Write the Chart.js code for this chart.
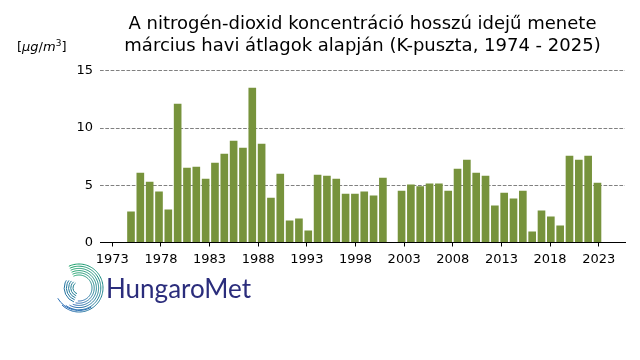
<!DOCTYPE html>
<html><head><meta charset="utf-8">
<script src="https://cdn.jsdelivr.net/npm/chart.js@4.4.1/dist/chart.umd.min.js"></script>
<style>
html,body{margin:0;padding:0;background:#fff;}
#wrap{position:relative;width:640px;height:360px;overflow:hidden;}
#ylab{position:absolute;left:17px;top:39px;font-family:"DejaVu Sans";font-size:13px;color:#000;white-space:nowrap;line-height:16px;}
#ylab sup{font-size:9px;vertical-align:0;position:relative;top:-5px;}
#logoText{position:absolute;left:106px;top:271px;font-family:Lato;font-weight:400;font-size:26px;color:#2b2d7c;line-height:34px;white-space:nowrap;}
</style></head>
<body><div id="wrap"><canvas id="c" width="640" height="360"></canvas>
<div id="ylab">[<i>μg</i>/<i>m</i><sup>3</sup>]</div>
<div id="logoText">HungaroMet</div></div>
<script>
const titleLines = ["A nitrogén-dioxid koncentráció hosszú idejű menete", "március havi átlagok alapján (K-puszta, 1974 - 2025)"];
const years = [1975,1976,1977,1978,1979,1980,1981,1982,1983,1984,1985,1986,1987,1988,1989,1990,1991,1992,1993,1994,1995,1996,1997,1998,1999,2000,2001,2002,2003,2004,2005,2006,2007,2008,2009,2010,2011,2012,2013,2014,2015,2016,2017,2018,2019,2020,2021,2022,2023,2024,2025];
const no2Values = [2.70,6.10,5.32,4.45,2.88,12.12,6.54,6.63,5.58,6.98,7.76,8.90,8.28,13.52,8.63,3.92,6.02,1.92,2.09,1.05,5.93,5.84,5.58,4.27,4.27,4.45,4.10,5.67,null,4.53,5.06,4.91,5.15,5.15,4.53,6.45,7.24,6.10,5.84,3.23,4.36,3.84,4.53,0.96,2.79,2.27,1.48,7.59,7.24,7.59,5.23];
const xTickLabels = [1973,1978,1983,1988,1993,1998,2003,2008,2013,2018,2023];
const yTickValues = [0,5,10,15];

const logoPlugin = {
  id: 'logo',
  afterDraw(chart) {
    const ctx = chart.ctx;
    const cx = 79, cy = 288;
    ctx.save();
    ctx.lineWidth = 1;
    const colAt = (t) => {
      const r = Math.round(20 + t * 20), g = Math.round(160 - t * 60), b = Math.round(100 + t * 80);
      return `rgb(${r},${g},${b})`;
    };
    for (let k = 0; k < 6; k++) {
      const r = 13 + k * 2.2;
      const a1 = -115 * Math.PI / 180, a2 = (95 + k * 8) * Math.PI / 180;
      const steps = 40;
      for (let s = 0; s < steps; s++) {
        const t0 = a1 + (a2 - a1) * s / steps, t1 = a1 + (a2 - a1) * (s + 1) / steps;
        ctx.strokeStyle = colAt(s / steps);
        ctx.beginPath(); ctx.arc(cx, cy, r, t0, t1); ctx.stroke();
      }
    }
    ctx.strokeStyle = 'rgb(40,110,180)';
    ctx.beginPath(); ctx.arc(cx, cy - 2, 24.5, 60 * Math.PI / 180, 150 * Math.PI / 180); ctx.stroke();
    for (let k = 0; k < 5; k++) {
      const r = 6 + k * 2.2;
      ctx.strokeStyle = colAt(0.55 + k * 0.05);
      ctx.beginPath(); ctx.arc(cx, cy, r, 110 * Math.PI / 180, (235 - k * 6) * Math.PI / 180); ctx.stroke();
    }
    ctx.restore();
  }
};

const barData = years.map((yr, i) => ({x: yr, y: no2Values[i]}));

new Chart(document.getElementById('c'), {
  type: 'bar',
  data: {
    datasets: [{
      data: barData,
      backgroundColor: '#77933c',
      borderWidth: 0,
      barPercentage: 0.82,
      categoryPercentage: 1.0,
      xAxisID: 'xb'
    }]
  },
  options: {
    responsive: false,
    devicePixelRatio: 1,
    animation: false,
    layout: {padding: {left: 0, right: 15, top: 0, bottom: 0}},
    plugins: {
      legend: {display: false},
      tooltip: {enabled: false},
      title: {
        display: true,
        text: titleLines,
        fullSize: false,
        color: '#000',
        font: {family: 'DejaVu Sans', size: 18, weight: 'normal', lineHeight: 1.22},
        padding: {top: 13, bottom: 14}
      }
    },
    scales: {
      xb: {
        type: 'linear',
        position: 'bottom',
        display: false,
        offset: false,
        grid: {offset: false},
        min: 1971.677,
        max: 2027.95
      },
      x: {
        type: 'linear',
        position: 'bottom',
        offset: false,
        min: 1971.736,
        max: 2025.70,
        afterBuildTicks: (scale) => { scale.ticks = xTickLabels.map(v => ({value: v})); },
        afterFit: (scale) => { scale.height = 117.5; },
        border: {display: true, color: '#000', width: 1},
        grid: {offset: false, drawOnChartArea: false, drawTicks: true, tickLength: 4, color: '#000'},
        ticks: {
          color: '#000', padding: 5, maxRotation: 0, autoSkip: false,
          font: {family: 'DejaVu Sans', size: 13},
          callback: (v) => String(v)
        }
      },
      y: {
        type: 'linear',
        min: 0, max: 15,
        afterBuildTicks: (scale) => { scale.ticks = yTickValues.map(v => ({value: v})); },
        afterFit: (scale) => { scale.width = 100; },
        border: {display: false, dash: [3.7, 1.6]},
        grid: {
          drawTicks: false,
          color: (ctx) => ctx.tick && ctx.tick.value === 0 ? 'rgba(0,0,0,0)' : '#808080',
          lineWidth: 1
        },
        ticks: {color: '#000', padding: 7, font: {family: 'DejaVu Sans', size: 13}}
      }
    }
  },
  plugins: [logoPlugin]
});
</script>
</body></html>
